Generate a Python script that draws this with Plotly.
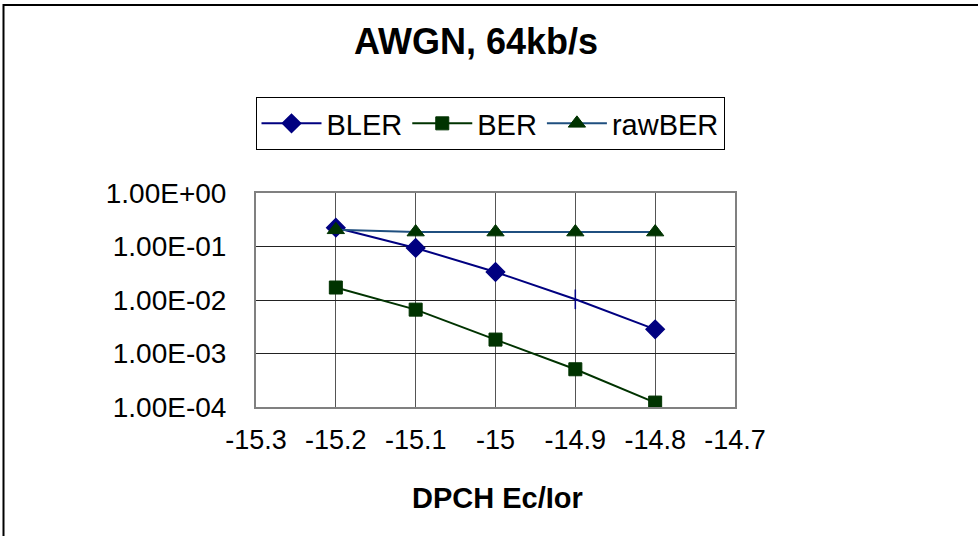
import plotly.graph_objects as go

x_vals = [-15.2, -15.1, -15.0, -14.9, -14.8]
bler = [0.225, 0.094, 0.0334, 0.0103, 0.00283]
ber = [0.0171, 0.0066, 0.00182, 0.000507, 0.000121]
raw_ber = [0.205, 0.186, 0.186, 0.186, 0.186]

x_ticks = [-15.3, -15.2, -15.1, -15.0, -14.9, -14.8, -14.7]
x_tick_text = ["-15.3", "-15.2", "-15.1", "-15", "-14.9", "-14.8", "-14.7"]
y_ticks = [1, 0.1, 0.01, 0.001, 0.0001]
y_tick_text = ["1.00E+00", "1.00E-01", "1.00E-02", "1.00E-03", "1.00E-04"]

W, H = 978, 536
L, R, T, B = 256, 735, 193, 407

def px2paper_x(px):
    return (px - L) / (R - L)

def px2paper_y(py):
    return (B - py) / (B - T)

fig = go.Figure()
fig.add_trace(go.Scatter(
    x=x_vals, y=bler, name="BLER", mode="lines+markers",
    line=dict(color="#000080", width=2),
    marker=dict(symbol=["diamond", "diamond", "diamond", "line-ns-open", "diamond"],
                size=[14, 14, 14, 14, 14], color="#000080", opacity=1,
                line=dict(color="#000080", width=1.5)),
))
fig.add_trace(go.Scatter(
    x=x_vals, y=ber, name="BER", mode="lines+markers",
    line=dict(color="#003300", width=2),
    marker=dict(symbol="square", size=13, color="#003300", opacity=1,
                line=dict(color="#003300", width=1)),
))
fig.add_trace(go.Scatter(
    x=x_vals, y=raw_ber, name="rawBER", mode="lines+markers",
    line=dict(color="#1F4F7F", width=2),
    marker=dict(symbol="triangle-up", size=15, color="#003300", opacity=1,
                line=dict(color="#003300", width=1)),
))

font = "Liberation Sans, Arial, sans-serif"

fig.update_layout(
    width=W, height=H,
    margin=dict(l=L, r=W - R, t=T, b=H - B, pad=0),
    paper_bgcolor="white", plot_bgcolor="white",
    font=dict(family=font, color="black", size=26),
    showlegend=True,
    title=dict(text="<b>AWGN, 64kb/s</b>", font=dict(family=font, size=36, color="black"),
               xref="paper", x=px2paper_x(476), xanchor="center",
               yref="container", y=1 - 41 / H, yanchor="middle"),
    legend=dict(orientation="h", x=px2paper_x(490), xanchor="center",
                y=px2paper_y(97), yanchor="top",
                bordercolor="black", borderwidth=1, bgcolor="white",
                font=dict(family=font, size=29, color="black"),
                itemwidth=60, tracegroupgap=0),
    xaxis=dict(range=[-15.3, -14.7], tickvals=x_ticks, ticktext=x_tick_text,
               showgrid=True, gridcolor="#555555", gridwidth=1,
               showline=True, linecolor="#808080", linewidth=2, mirror=True,
               ticks="outside", ticklen=8, tickcolor="rgba(0,0,0,0)", zeroline=False,
               tickfont=dict(family=font, size=27)),
    yaxis=dict(type="log", range=[-4, 0], tickvals=y_ticks, ticktext=y_tick_text,
               showgrid=True, gridcolor="#222222", gridwidth=1,
               showline=True, linecolor="#808080", linewidth=2, mirror=True,
               ticks="outside", ticklen=22, tickcolor="rgba(0,0,0,0)", zeroline=False,
               tickfont=dict(family=font, size=28)),
    annotations=[dict(text="<b>DPCH Ec/Ior</b>", xref="paper", yref="paper",
                      x=px2paper_x(497), y=px2paper_y(498), xanchor="center", yanchor="middle",
                      showarrow=False, font=dict(family=font, size=29, color="black"))],
    shapes=[dict(type="rect", xref="paper", yref="paper",
                 x0=px2paper_x(3.5), x1=px2paper_x(1000),
                 y0=px2paper_y(560), y1=px2paper_y(5),
                 line=dict(color="black", width=2), fillcolor="rgba(0,0,0,0)",
                 layer="below")],
)

fig.write_html("out.html", config={"displayModeBar": False},
               post_script="document.body.style.margin='0px';document.body.style.overflow='hidden';")
